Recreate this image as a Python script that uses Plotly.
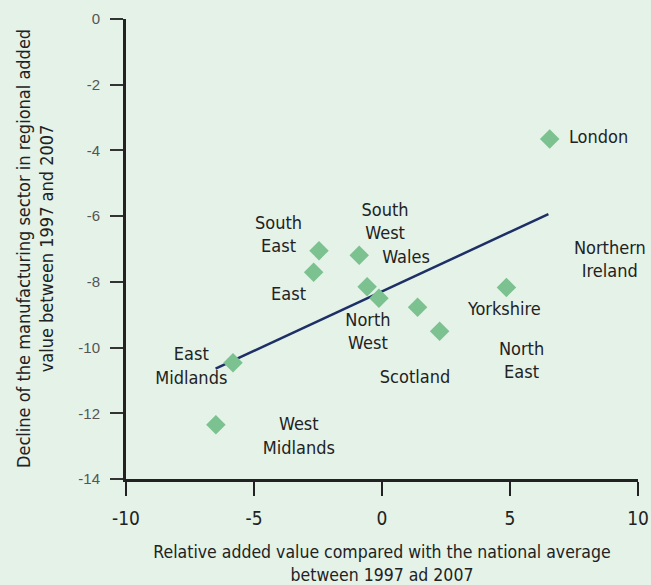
import plotly.graph_objects as go

# Data
regions = ["London", "South East", "East", "South West", "Wales", "North West",
           "Scotland", "North East", "Yorkshire", "East Midlands", "West Midlands"]
rel_value = [6.55, -2.46, -2.67, -0.89, -0.58, -0.12, 1.39, 2.25, 4.86, -5.82, -6.49]
decline = [-3.65, -7.05, -7.71, -7.19, -8.15, -8.50, -8.77, -9.50, -8.17, -10.46, -12.35]

label_text = ["London", "South<br>East", "East", "South<br>West", "Wales", "North<br>West",
              "Scotland", "Yorkshire", "North<br>East", "Northern<br>Ireland",
              "East<br>Midlands", "West<br>Midlands"]
label_x = [8.46, -4.04, -3.65, 0.12, 0.94, -0.55, 1.29, 4.78, 5.45, 8.90, -7.45, -3.25]
label_y = [-3.65, -6.60, -8.43, -6.21, -7.30, -9.56, -10.93, -8.86, -10.44, -7.36, -10.61, -12.74]

trend_x = [-6.5, 6.5]
trend_y = [-10.64, -5.94]

x_ticks = [-10, -5, 0, 5, 10]
y_ticks = [0, -2, -4, -6, -8, -10, -12, -14]

x_title = "Relative added value compared with the national average<br>between 1997 ad 2007"
y_title = "Decline of the manufacturing sector in regional added<br>value between 1997 and 2007"

FONT = "DejaVu Sans Condensed, Liberation Sans, sans-serif"
BG = "#e4f2e8"

fig = go.Figure()
fig.add_trace(go.Scatter(x=trend_x, y=trend_y, mode="lines",
                         line=dict(color="#1e2f66", width=2.5), hoverinfo="skip"))
fig.add_trace(go.Scatter(x=rel_value, y=decline, mode="markers", text=regions,
                         marker=dict(symbol="diamond", size=15, color="#7cc190",
                                     line=dict(width=0))))
fig.add_trace(go.Scatter(x=label_x, y=label_y, mode="text", text=label_text,
                         textfont=dict(family=FONT, size=18, color="#222222"),
                         cliponaxis=False, hoverinfo="skip"))

fig.update_layout(
    width=651, height=585,
    margin=dict(l=126, r=13, t=19, b=106),
    paper_bgcolor=BG, plot_bgcolor=BG,
    showlegend=False,
    font=dict(family=FONT),
    xaxis=dict(range=[-10, 10], tickvals=x_ticks, ticktext=[str(v) for v in x_ticks],
               automargin=False,
               showgrid=False, zeroline=False, showline=True, linecolor="#222222",
               linewidth=2.5, ticks="outside", ticklen=14, tickwidth=2, tickcolor="#222222",
               ticklabelstandoff=6,
               tickfont=dict(family=FONT, size=19, color="#222222"),
               title=dict(text=x_title,
                          font=dict(family=FONT, size=17.5, color="#222222"), standoff=19)),
    yaxis=dict(range=[-14, 0], tickvals=y_ticks, ticktext=[str(v) for v in y_ticks],
               automargin=False,
               showgrid=False, zeroline=False, showline=True, linecolor="#222222",
               linewidth=3, ticks="outside", ticklen=13, tickwidth=1.5, tickcolor="#333333",
               ticklabelstandoff=7,
               tickfont=dict(family="Liberation Sans, Arial, sans-serif", size=15, color="#555555")),
    annotations=[dict(text=y_title, xref="paper", yref="paper", x=0, y=0.5,
                      xanchor="center", yanchor="middle", xshift=-91, textangle=-90,
                      showarrow=False, font=dict(family=FONT, size=18, color="#222222"))],
)

fig.write_html("out.html", config={"displayModeBar": False},
               post_script="document.body.style.margin='0';")
